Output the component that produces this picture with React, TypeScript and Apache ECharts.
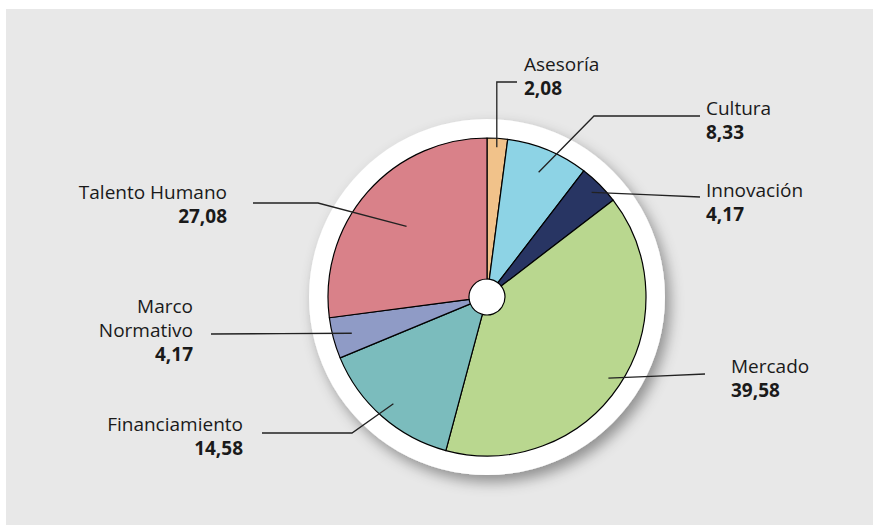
import React, { useEffect, useRef } from "react";
import * as echarts from "echarts";

const categories = ["Asesoría", "Cultura", "Innovación", "Mercado", "Financiamiento", "Marco Normativo", "Talento Humano"];
const labelNames = ["Asesoría", "Cultura", "Innovación", "Mercado", "Financiamiento", "Marco\nNormativo", "Talento Humano"];
const values = [2.08, 8.33, 4.17, 39.58, 14.58, 4.17, 27.08];
const colors = ["#f1c28a", "#8dd3e5", "#283563", "#b9d78f", "#7bbcbd", "#8f9bc6", "#d98189"];

// label layout (pixel positions of labels and leader line bends)
const labelLayouts = [
  { x: 524, y: 76, align: "left", startR: 150, bend: "vertical", end: [517, 82] },
  { x: 706, y: 120, align: "left", startR: 135, bend: [594, 116], end: [700, 116] },
  { x: 706, y: 202, align: "left", startR: 148, bend: null, end: [700, 197] },
  { x: 731, y: 378, align: "left", startR: 146, bend: null, end: [705, 374] },
  { x: 243, y: 436, align: "right", startR: 142, bend: [352, 433], end: [262, 433] },
  { x: 193, y: 330, align: "right", startR: 140, bend: null, end: [211, 334] },
  { x: 227, y: 204, align: "right", startR: 107, bend: [318, 203], end: [253, 203] },
];

const CX = 487;
const CY = 297;
const R_OUT = 159;
const R_IN = 18;
const R_RING = 178;

export default function App() {
  const ref = useRef<HTMLDivElement>(null);
  useEffect(() => {
    document.body.style.margin = "0";
    const chart = echarts.init(ref.current!, null, { renderer: "svg" });
    const total = values.reduce((a, b) => a + b, 0);
    const mids: number[] = [];
    let cum = 0;
    values.forEach((v) => {
      mids.push(((cum + v / 2) / total) * Math.PI * 2);
      cum += v;
    });
    const fmt = (v: number) => v.toFixed(2).replace(".", ",");
    const pieData = categories.map((c, i) => ({
      name: c,
      value: values[i],
      itemStyle: { color: colors[i] },
    }));
    chart.setOption({
      animation: false,
      graphic: [
        {
          type: "rect",
          shape: { x: 6, y: 9, width: 873, height: 525 },
          style: { fill: "#e8e8e8" },
          z: -10,
          silent: true,
        },
      ],
      series: [
        {
          type: "pie",
          silent: true,
          z: 1,
          center: [CX, CY],
          radius: [0, R_RING],
          label: { show: false },
          labelLine: { show: false },
          itemStyle: {
            color: "#ffffff",
            shadowBlur: 14,
            shadowOffsetX: 5,
            shadowOffsetY: 7,
            shadowColor: "rgba(0,0,0,0.38)",
          },
          data: [{ value: 1, name: "ring" }],
        },
        {
          type: "pie",
          z: 2,
          center: [CX, CY],
          radius: [R_IN, R_OUT],
          startAngle: 90,
          clockwise: true,
          itemStyle: { borderColor: "#000000", borderWidth: 1.2 },
          label: { show: false },
          labelLine: { show: false },
          data: pieData,
        },
        {
          // transparent copy carrying labels and leader lines above the slices
          type: "pie",
          z: 3,
          silent: true,
          center: [CX, CY],
          radius: [R_IN, R_OUT],
          startAngle: 90,
          clockwise: true,
          avoidLabelOverlap: false,
          itemStyle: { color: "rgba(0,0,0,0)", borderWidth: 0 },
          label: {
            show: true,
            position: "outside",
            color: "#1a1a1a",
            fontFamily: "Open Sans",
            formatter: (p: any) => `{n|${labelNames[p.dataIndex]}}\n{v|${fmt(p.value)}}`,
            rich: {
              n: { fontFamily: "Open Sans", fontSize: 19, lineHeight: 24, color: "#1a1a1a" },
              v: { fontFamily: "Open Sans", fontSize: 19, lineHeight: 24, fontWeight: "bold", color: "#1a1a1a" },
            },
          },
          labelLine: {
            show: true,
            lineStyle: { color: "#222222", width: 1.3 },
          },
          labelLayout: (params: any) => {
            const i = params.dataIndex;
            const L = labelLayouts[i];
            const a = mids[i];
            const sx = CX + L.startR * Math.sin(a);
            const sy = CY - L.startR * Math.cos(a);
            let bend: number[];
            if (L.bend === "vertical") bend = [sx, L.end[1]];
            else if (L.bend) bend = L.bend as number[];
            else bend = [(sx + L.end[0]) / 2, (sy + L.end[1]) / 2];
            return {
              x: L.x,
              y: L.y,
              align: L.align,
              verticalAlign: "middle",
              labelLinePoints: [[sx, sy], bend, L.end],
            };
          },
          data: categories.map((c, i) => ({
            name: c,
            value: values[i],
            label: { align: labelLayouts[i].align },
          })),
        },
      ],
    });
    return () => chart.dispose();
  }, []);
  return <div ref={ref} style={{ width: 873, height: 525 }} />;
}
